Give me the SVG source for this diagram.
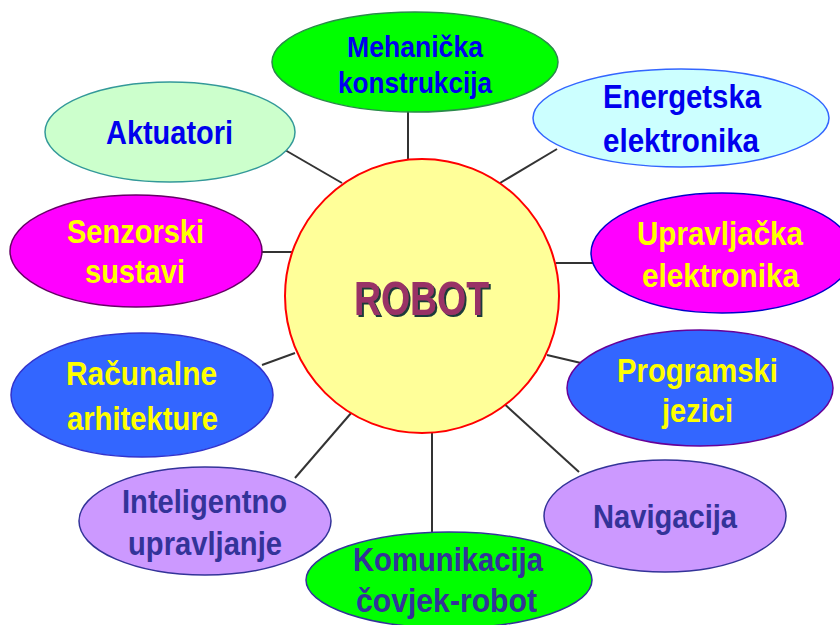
<svg xmlns="http://www.w3.org/2000/svg" width="840" height="625" viewBox="0 0 840 625">
<defs>
<filter id="shadow" x="-10%" y="-20%" width="130%" height="150%">
<feDropShadow dx="2" dy="2" stdDeviation="0.6" flood-color="#1f3a3a" flood-opacity="1"/>
</filter>
</defs>
<style>
text{font-family:"Liberation Sans",Arial,sans-serif;font-weight:bold;text-anchor:middle}
.t{font-size:34px}
.s{font-size:30px}
.blue{fill:#0000ee}
.yel{fill:#ffff00}
.nav{fill:#333399}
.conn line{stroke:#333333;stroke-width:2}
ellipse{stroke-width:1.5}
</style>
<rect width="840" height="625" fill="#ffffff"/>
<g id="connectors" class="conn">
<line x1="408" y1="110" x2="408" y2="162"/>
<line x1="285" y1="150" x2="342" y2="183"/>
<line x1="557" y1="149" x2="500" y2="183"/>
<line x1="260" y1="252" x2="293" y2="252"/>
<line x1="556" y1="263" x2="593" y2="263"/>
<line x1="262" y1="365" x2="295" y2="353"/>
<line x1="547" y1="355" x2="581" y2="363"/>
<line x1="352" y1="412" x2="295" y2="478"/>
<line x1="432" y1="433" x2="432" y2="533"/>
<line x1="500" y1="400" x2="579" y2="472"/>
</g>
<g id="robot">
<circle cx="422" cy="296" r="137" fill="#ffff99" stroke="#ff0000" stroke-width="2"/>
<text x="421.5" y="315" font-size="48" textLength="135" lengthAdjust="spacingAndGlyphs" fill="#993366" filter="url(#shadow)">ROBOT</text>
</g>
<g id="mehanicka">
<ellipse cx="415" cy="62" rx="143" ry="50" fill="#00ff00" stroke="#2a8a4a"/>
<text class="s blue" x="415" y="57" textLength="136" lengthAdjust="spacingAndGlyphs">Mehanička</text>
<text class="s blue" x="415" y="93" textLength="154" lengthAdjust="spacingAndGlyphs">konstrukcija</text>
</g>
<g id="aktuatori">
<ellipse cx="170" cy="132" rx="125" ry="50" fill="#ccffcc" stroke="#339999"/>
<text class="t blue" x="169.5" y="144" textLength="127" lengthAdjust="spacingAndGlyphs">Aktuatori</text>
</g>
<g id="energetska">
<ellipse cx="681" cy="118" rx="148" ry="49" fill="#ccffff" stroke="#3366ff"/>
<text class="t blue" x="682" y="108" textLength="158" lengthAdjust="spacingAndGlyphs">Energetska</text>
<text class="t blue" x="681" y="152" textLength="156" lengthAdjust="spacingAndGlyphs">elektronika</text>
</g>
<g id="senzorski">
<ellipse cx="136" cy="251" rx="126" ry="56" fill="#ff00ff" stroke="#660066"/>
<text class="t yel" x="135.5" y="243" textLength="137" lengthAdjust="spacingAndGlyphs">Senzorski</text>
<text class="t yel" x="135" y="283" textLength="100" lengthAdjust="spacingAndGlyphs">sustavi</text>
</g>
<g id="upravljacka">
<ellipse cx="722" cy="253" rx="131" ry="60" fill="#ff00ff" stroke="#0000cc"/>
<text class="t yel" x="720" y="245" textLength="166" lengthAdjust="spacingAndGlyphs">Upravljačka</text>
<text class="t yel" x="720.5" y="287" textLength="157" lengthAdjust="spacingAndGlyphs">elektronika</text>
</g>
<g id="racunalne">
<ellipse cx="142" cy="395" rx="131" ry="62" fill="#3366ff" stroke="#3333cc"/>
<text class="t yel" x="141.5" y="385" textLength="151" lengthAdjust="spacingAndGlyphs">Računalne</text>
<text class="t yel" x="142.5" y="430" textLength="151" lengthAdjust="spacingAndGlyphs">arhitekture</text>
</g>
<g id="programski">
<ellipse cx="700" cy="388" rx="133" ry="58" fill="#3366ff" stroke="#660099"/>
<text class="t yel" x="697.5" y="382" textLength="161" lengthAdjust="spacingAndGlyphs">Programski</text>
<text class="t yel" x="697.5" y="422" textLength="71" lengthAdjust="spacingAndGlyphs">jezici</text>
</g>
<g id="inteligentno">
<ellipse cx="205" cy="521" rx="126" ry="54" fill="#cc99ff" stroke="#333399"/>
<text class="t nav" x="204.5" y="513" textLength="165" lengthAdjust="spacingAndGlyphs">Inteligentno</text>
<text class="t nav" x="205" y="555" textLength="154" lengthAdjust="spacingAndGlyphs">upravljanje</text>
</g>
<g id="navigacija">
<ellipse cx="665" cy="516" rx="121" ry="56" fill="#cc99ff" stroke="#333399"/>
<text class="t nav" x="665" y="528" textLength="144" lengthAdjust="spacingAndGlyphs">Navigacija</text>
</g>
<g id="komunikacija">
<ellipse cx="449" cy="580" rx="143" ry="48" fill="#00ff00" stroke="#333399"/>
<text class="t nav" x="448" y="571" textLength="190" lengthAdjust="spacingAndGlyphs">Komunikacija</text>
<text class="t nav" x="446.5" y="612" textLength="181" lengthAdjust="spacingAndGlyphs">čovjek-robot</text>
</g>
</svg>
